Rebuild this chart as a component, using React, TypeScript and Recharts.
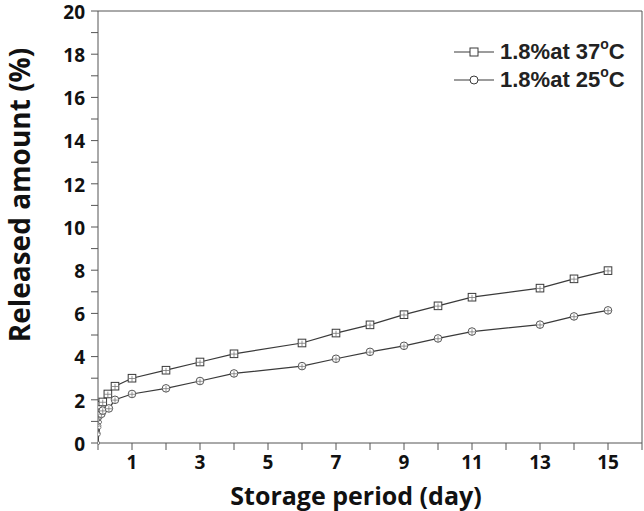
import React from "react";
import {
  Legend,
  Line,
  LineChart,
  ReferenceLine,
  XAxis,
  YAxis,
} from "recharts";

// storage time (day) and released amount (%)
const time37 = [0, 0.02, 0.04, 0.06, 0.08, 0.1, 0.14, 0.29, 0.5, 1, 2, 3, 4, 6, 7, 8, 9, 10, 11, 13, 14, 15];
const rel37 = [0, 0.45, 0.8, 1.15, 1.45, 1.75, 1.9, 2.27, 2.63, 3.0, 3.37, 3.75, 4.13, 4.63, 5.09, 5.47, 5.94, 6.35, 6.75, 7.17, 7.6, 7.98];
const time25 = [0, 0.02, 0.04, 0.06, 0.08, 0.1, 0.14, 0.32, 0.5, 1, 2, 3, 4, 6, 7, 8, 9, 10, 11, 13, 14, 15];
const rel25 = [0, 0.4, 0.72, 0.97, 1.2, 1.35, 1.5, 1.6, 2.0, 2.27, 2.53, 2.87, 3.22, 3.56, 3.9, 4.22, 4.5, 4.84, 5.16, 5.48, 5.86, 6.14];

const xTicks = [0, 1, 2, 3, 4, 5, 6, 7, 8, 9, 10, 11, 12, 13, 14, 15, 16];
const yTicks = [0, 1, 2, 3, 4, 5, 6, 7, 8, 9, 10, 11, 12, 13, 14, 15, 16, 17, 18, 19, 20];

const series = [
  { name: "37", label: "1.8%at 37", data: time37.map((t, i) => ({ t, v: rel37[i] })), shape: "square" },
  { name: "25", label: "1.8%at 25", data: time25.map((t, i) => ({ t, v: rel25[i] })), shape: "circle" },
];

const LINE = "#3a3a3a";
const AXIS = "#555";
const FONT = "'Open Sans', sans-serif";

function Marker({ cx, cy, shape, small }: any) {
  if (cx == null || cy == null) return null;
  if (small) {
    return <circle cx={cx} cy={cy} r={1.6} fill="#fff" stroke="#666" strokeWidth={0.8} />;
  }
  const s = 3.8;
  return (
    <g>
      {shape === "square" ? (
        <rect x={cx - s} y={cy - s} width={s * 2} height={s * 2} fill="#fff" stroke={LINE} strokeWidth={1} />
      ) : (
        <circle cx={cx} cy={cy} r={s} fill="#fff" stroke="#555" strokeWidth={1} />
      )}
      <line x1={cx} y1={cy - s + 1.5} x2={cx} y2={cy + s} stroke="#777" strokeWidth={0.8} />
      <line x1={cx - s} y1={cy + 0.3} x2={cx + s} y2={cy + 0.3} stroke="#777" strokeWidth={0.8} />
    </g>
  );
}

function LegendBox() {
  return (
    <div style={{ fontFamily: "'Liberation Sans', Arial, sans-serif", fontWeight: 700, fontSize: 22, color: "#222" }}>
      {series.map((s) => (
        <div key={s.name} style={{ display: "flex", alignItems: "center", height: 28, letterSpacing: 0 }}>
          <svg width={44} height={14} style={{ marginRight: 4 }}>
            <line x1={2} y1={7} x2={42} y2={7} stroke={LINE} strokeWidth={1.2} />
            {s.shape === "square" ? (
              <rect x={18} y={3} width={8} height={8} fill="#fff" stroke={LINE} strokeWidth={1} />
            ) : (
              <circle cx={22} cy={7} r={4} fill="#fff" stroke={LINE} strokeWidth={1} />
            )}
          </svg>
          <span>
            {s.label}
            <sup style={{ fontSize: 14, position: "relative", top: -2 }}>o</sup>C
          </span>
        </div>
      ))}
    </div>
  );
}

export default function App() {
  return (
    <div style={{ position: "absolute", left: 0, top: 0, width: 644, height: 511, background: "#fff" }}>
      <LineChart width={644} height={511} margin={{ top: 11, right: 2, left: 0, bottom: 0 }}>
        <XAxis
          type="number"
          dataKey="t"
          domain={[0, 16]}
          ticks={xTicks}
          interval={0}
          allowDataOverflow
          height={68}
          tickSize={7}
          tickMargin={6}
          stroke={AXIS}
          tickFormatter={(v: number) => (v % 2 === 1 ? String(v) : "")}
          tick={{ fill: "#111", fontSize: 19, fontWeight: 700, fontFamily: FONT }}
          label={{
            value: "Storage period (day)",
            position: "insideBottom",
            offset: 6,
            dx: -14,
            style: { fill: "#111", fontSize: 25, fontWeight: 700, fontFamily: FONT },
          }}
        />
        <YAxis
          type="number"
          domain={[0, 20]}
          ticks={yTicks}
          interval={0}
          width={98}
          tickSize={7}
          tickMargin={6}
          stroke={AXIS}
          tickFormatter={(v: number) => (v % 2 === 0 ? String(v) : "")}
          tick={{ fill: "#111", fontSize: 19, fontWeight: 700, fontFamily: FONT, dy: 1 }}
          label={{
            value: "Released amount (%)",
            angle: -90,
            position: "insideLeft",
            offset: 20,
            dy: -32,
            style: { fill: "#111", fontSize: 28, fontWeight: 700, fontFamily: FONT, textAnchor: "middle" },
          }}
        />
        <ReferenceLine y={20} stroke={AXIS} strokeWidth={1} />
        <ReferenceLine x={16} stroke={AXIS} strokeWidth={1} />
        <Legend
          layout="vertical"
          align="center"
          verticalAlign="middle"
          wrapperStyle={{ left: 452, top: 38, width: 190 }}
          content={() => <LegendBox />}
        />
        {series.map((s) => (
          <Line
            key={s.name}
            data={s.data}
            dataKey="v"
            name={s.label}
            type="linear"
            stroke={LINE}
            strokeWidth={1.2}
            isAnimationActive={false}
            dot={(p: any) => (
              <Marker key={`${s.name}-${p.index}`} cx={p.cx} cy={p.cy} shape={s.shape} small={p.payload.t < 0.09} />
            )}
          />
        ))}
      </LineChart>
    </div>
  );
}
